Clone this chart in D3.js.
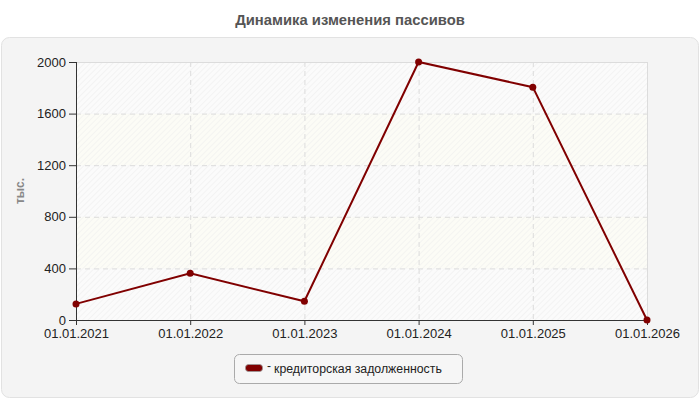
<!DOCTYPE html>
<html><head><meta charset="utf-8">
<script src="https://cdn.jsdelivr.net/npm/d3@7"></script>
<style>body{margin:0;background:#fff;font-family:Arial,"Liberation Sans",sans-serif}</style>
</head><body><svg id="c" width="700" height="400"></svg>
<script>
const categories = ["01.01.2021","01.01.2022","01.01.2023","01.01.2024","01.01.2025","01.01.2026"];
const values = [125, 362, 145, 2000, 1805, 0];
const yTicks = [0, 400, 800, 1200, 1600, 2000];
const seriesName = "кредиторская задолженность";
const title = "Динамика изменения пассивов";
const yLabel = "тыс.";

const svg = d3.select("#c");
const defs = svg.append("defs");
function hatch(id, bg) {
  const p = defs.append("pattern").attr("id", id).attr("patternUnits","userSpaceOnUse")
    .attr("width",4).attr("height",4).attr("patternTransform","rotate(45)");
  p.append("rect").attr("width",4).attr("height",4).attr("fill",bg);
  p.append("line").attr("x1",0).attr("y1",0).attr("x2",0).attr("y2",4).attr("stroke","#efefef").attr("stroke-width",1.2);
}
hatch("hw","#fbfbfb");
hatch("hy","#fcfcf6");

svg.append("text").attr("x",350).attr("y",25).attr("text-anchor","middle")
  .attr("font-size",14.8).attr("font-weight","bold").attr("fill","#555").text(title);

svg.append("rect").attr("x",1.5).attr("y",37.5).attr("width",697).attr("height",360).attr("rx",8)
  .attr("fill","#f4f4f4").attr("stroke","#e2e2e2");

const L=76, R=647, T=62, B=320;
const x = d3.scalePoint().domain(categories).range([L,R]);
const y = d3.scaleLinear().domain([0,2000]).range([B,T]);

const g = svg.append("g");
for (let i=0;i<yTicks.length-1;i++){
  g.append("rect").attr("x",L).attr("width",R-L)
   .attr("y",y(yTicks[i+1])).attr("height",y(yTicks[i])-y(yTicks[i+1]))
   .attr("fill", i%2===0 ? "url(#hw)" : "url(#hy)");
}
g.selectAll(".hg").data(yTicks.slice(1,-1)).join("line")
  .attr("x1",L).attr("x2",R).attr("y1",d=>y(d)+0.5).attr("y2",d=>y(d)+0.5)
  .attr("stroke","#dcdcdc").attr("stroke-dasharray","5,4");
g.selectAll(".vg").data(categories.slice(1,-1)).join("line")
  .attr("y1",T).attr("y2",B).attr("x1",d=>x(d)+0.5).attr("x2",d=>x(d)+0.5)
  .attr("stroke","#dcdcdc").attr("stroke-dasharray","5,4");
g.append("line").attr("x1",L).attr("x2",R).attr("y1",T+0.5).attr("y2",T+0.5).attr("stroke","#dcdcdc");
g.append("line").attr("x1",R+0.5).attr("x2",R+0.5).attr("y1",T).attr("y2",B).attr("stroke","#dcdcdc");

const ya = svg.append("g").attr("transform",`translate(${L},0)`)
  .call(d3.axisLeft(y).tickValues(yTicks).tickFormat(d3.format("d")).tickSize(7).tickPadding(3).tickSizeOuter(0));
const xa = svg.append("g").attr("transform",`translate(0,${B})`)
  .call(d3.axisBottom(x).tickSize(5).tickPadding(4).tickSizeOuter(0));
[ya,xa].forEach(a=>{
  a.selectAll("text").attr("font-size",13).attr("fill","#222").attr("font-family","Arial,'Liberation Sans',sans-serif");
  a.selectAll("line,path").attr("stroke","#333");
});
ya.select(".domain").attr("d",`M0.5,${T}V${B}`);
xa.select(".domain").attr("d",`M${L},0.5H${R}`);

svg.append("text").attr("transform","translate(24,191) rotate(-90)").attr("text-anchor","middle")
  .attr("font-size",12).attr("font-weight","bold").attr("fill","#888").text(yLabel);

const line = d3.line().x((d,i)=>x(categories[i])).y(d=>y(d));
svg.append("path").datum(values).attr("d",line).attr("fill","none")
  .attr("stroke","#800000").attr("stroke-width",2);
svg.selectAll(".pt").data(values).join("circle")
  .attr("cx",(d,i)=>x(categories[i])).attr("cy",d=>y(d)).attr("r",3.5).attr("fill","#800000");

const lg = svg.append("g");
lg.append("rect").attr("x",234.5).attr("y",354.5).attr("width",228).attr("height",29).attr("rx",5)
  .attr("fill","#f6f6f6").attr("stroke","#aaa");
lg.append("rect").attr("x",245.5).attr("y",364.5).attr("width",17).attr("height",7).attr("rx",3)
  .attr("fill","#800000").attr("stroke","#999").attr("stroke-width",0.8);
lg.append("text").attr("x",267).attr("y",369.5).attr("font-size",12).attr("fill","#222").text("-");
lg.append("text").attr("x",274).attr("y",373).attr("font-size",12.3).attr("fill","#222").text(seriesName);
</script></body></html>
